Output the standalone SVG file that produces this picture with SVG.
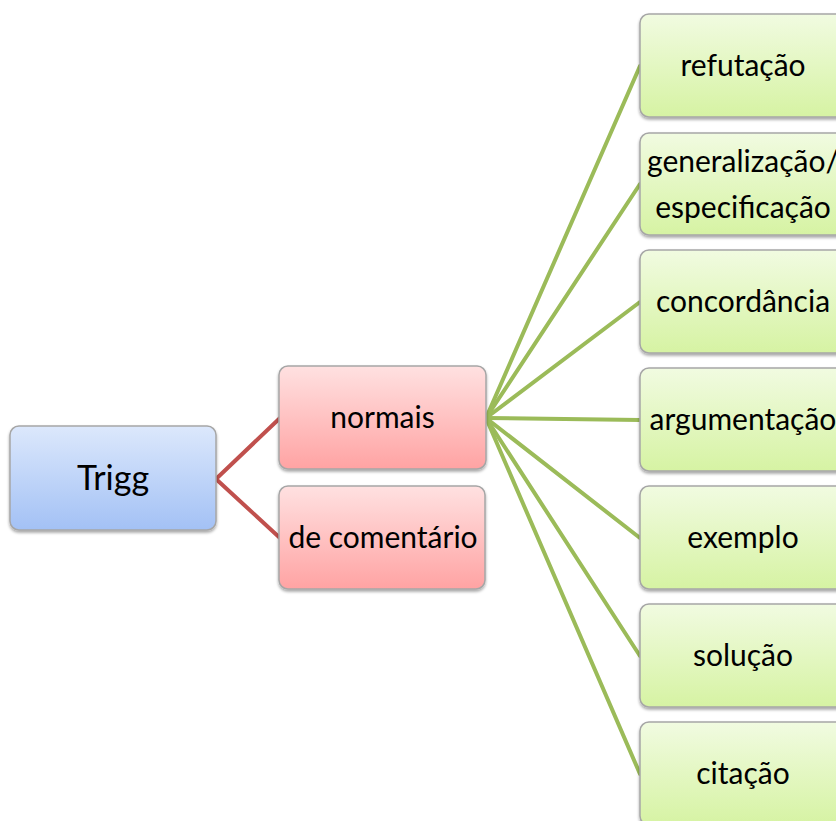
<svg xmlns="http://www.w3.org/2000/svg" width="836" height="821" viewBox="0 0 836 821">
<defs>
<linearGradient id="gBlue" x1="0" y1="0" x2="0" y2="1"><stop offset="0" stop-color="#dce8fc"/><stop offset="1" stop-color="#a3c1f5"/></linearGradient>
<linearGradient id="gRed" x1="0" y1="0" x2="0" y2="1"><stop offset="0" stop-color="#ffe1e1"/><stop offset="1" stop-color="#ffa3a3"/></linearGradient>
<linearGradient id="gGreen" x1="0" y1="0" x2="0" y2="1"><stop offset="0" stop-color="#f1fbe1"/><stop offset="1" stop-color="#d6f3a3"/></linearGradient>
<filter id="sh" x="-10%" y="-10%" width="120%" height="130%"><feGaussianBlur in="SourceAlpha" stdDeviation="1.5"/><feOffset dx="0" dy="2" result="b"/><feComponentTransfer><feFuncA type="linear" slope="0.35"/></feComponentTransfer><feMerge><feMergeNode/><feMergeNode in="SourceGraphic"/></feMerge></filter>
</defs>
<style>
.box{stroke:#a6a6a6;stroke-width:1.5;filter:url(#sh)}
.blue{fill:url(#gBlue)}
.red{fill:url(#gRed)}
.green{fill:url(#gGreen)}
text{font-family:Lato,"Open Sans","Liberation Sans",sans-serif;font-size:30px;fill:#000;text-anchor:middle}
.big{font-size:34px}
.rc{stroke:#c0504d;stroke-width:4;fill:none;stroke-linecap:round}
.gc{stroke:#9bbb59;stroke-width:4;fill:none;stroke-linecap:round}
</style>
<g id="connectors">
<path class="rc" d="M216,479 L280,418"/>
<path class="rc" d="M216,479 L280,538"/>
<path class="gc" d="M486,418 L640,66"/>
<path class="gc" d="M486,418 L640,184"/>
<path class="gc" d="M486,418 L640,302"/>
<path class="gc" d="M486,418 L640,420"/>
<path class="gc" d="M486,418 L640,538"/>
<path class="gc" d="M486,418 L640,656"/>
<path class="gc" d="M486,418 L640,774"/>
</g>
<g id="n-trigg"><rect class="box blue" x="10" y="426" width="206" height="104" rx="9"/><text class="big" x="113" y="490">Trigg</text></g>
<g id="n-normais"><rect class="box red" x="279" y="366" width="207" height="103" rx="9"/><text x="382.5" y="428">normais</text></g>
<g id="n-comentario"><rect class="box red" x="279" y="486" width="206" height="103" rx="9"/><text x="383" y="548">de comentário</text></g>
<g id="n-refutacao"><rect class="box green" x="640" y="14" width="206" height="103" rx="9"/><text x="743" y="76">refutação</text></g>
<g id="n-generalizacao"><rect class="box green" x="640" y="133" width="206" height="102" rx="9"/><text x="743" y="172">generalização/</text><text x="743" y="218">especificação</text></g>
<g id="n-concordancia"><rect class="box green" x="640" y="250" width="206" height="103" rx="9"/><text x="743" y="312">concordância</text></g>
<g id="n-argumentacao"><rect class="box green" x="640" y="368" width="206" height="103" rx="9"/><text x="743" y="430">argumentação</text></g>
<g id="n-exemplo"><rect class="box green" x="640" y="486" width="206" height="103" rx="9"/><text x="743" y="548">exemplo</text></g>
<g id="n-solucao"><rect class="box green" x="640" y="604" width="206" height="103" rx="9"/><text x="743" y="666">solução</text></g>
<g id="n-citacao"><rect class="box green" x="640" y="722" width="206" height="103" rx="9"/><text x="743" y="784">citação</text></g>
</svg>
